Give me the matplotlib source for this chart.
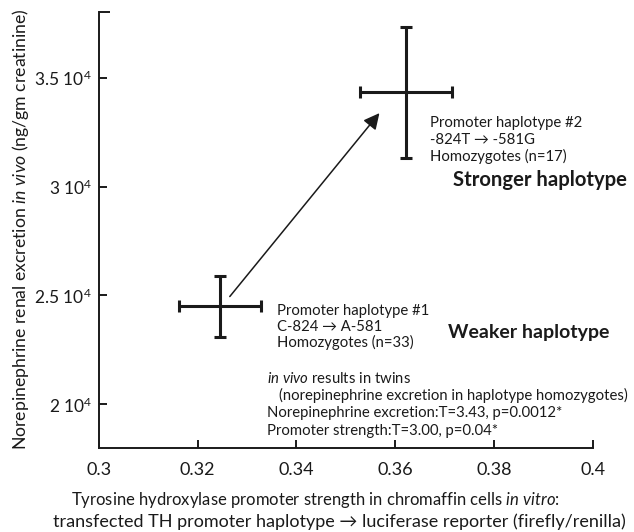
import numpy as np
import matplotlib
matplotlib.use("Agg")
import matplotlib.pyplot as plt
from matplotlib.ticker import FixedLocator, FuncFormatter

plt.rcParams['font.family'] = ['Lato', 'DejaVu Sans']
plt.rcParams['mathtext.fontset'] = 'custom'
plt.rcParams['mathtext.rm'] = 'Lato'
plt.rcParams['mathtext.it'] = 'Lato:italic'
plt.rcParams['mathtext.bf'] = 'Lato:bold'

# haplotype means +/- error (x: in vitro promoter strength, y: NE excretion)
haplotypes = ["#1", "#2"]
promoter_strength = [0.3246, 0.3621]
promoter_err = [0.0083, 0.0093]
ne_excretion = [24500, 34320]
ne_err = [1400, 3000]

x_ticks = [0.3, 0.32, 0.34, 0.36, 0.38, 0.4]
y_ticks = [20000, 25000, 30000, 35000]

INK = '#1a1a1a'

fig = plt.figure(figsize=(6.34, 5.32), dpi=100)
ax = fig.add_axes([0.156, 0.158, 0.779, 0.819])

ax.errorbar(promoter_strength, ne_excretion, xerr=promoter_err, yerr=ne_err,
            fmt='none', ecolor=INK, elinewidth=2.2, capsize=4, capthick=2.2)

# arrow from weaker to stronger haplotype
ax.annotate("", xy=(0.3568, 33370), xytext=(0.3265, 24950),
            arrowprops=dict(arrowstyle='-|>', mutation_scale=24, lw=1.1,
                            color=INK, shrinkA=0, shrinkB=0))

ax.set_xlim(0.3, 0.4)
ax.set_ylim(18000, 38000)
ax.xaxis.set_major_locator(FixedLocator(x_ticks))
ax.yaxis.set_major_locator(FixedLocator(y_ticks))
ax.yaxis.set_minor_locator(FixedLocator([38000]))
ax.xaxis.set_major_formatter(FuncFormatter(lambda v, p: f"{v:g}"))
ax.yaxis.set_major_formatter(FuncFormatter(lambda v, p: f"{v / 1e4:g} 10$^4$"))

for s in ['top', 'right']:
    ax.spines[s].set_visible(False)
for s in ['left', 'bottom']:
    ax.spines[s].set_linewidth(1.4)
    ax.spines[s].set_color(INK)
ax.tick_params(axis='both', which='both', direction='in', length=6, width=1.4,
               color=INK, labelsize=13, labelcolor=INK)
ax.tick_params(axis='x', pad=10)
ax.tick_params(axis='y', pad=5, labelsize=12.5)
ax.tick_params(axis='y', which='minor', length=8)

fig.text(0.033, 0.569, r"Norepinephrine renal excretion $\it{in\ vivo}$ (ng/gm creatinine)",
         rotation=90, ha='center', va='center', fontsize=12.7, color=INK)
fig.text(0.497, 1 - 505 / 532,
         r"Tyrosine hydroxylase promoter strength in chromaffin cells $\it{in\ vitro}$:",
         ha='center', va='baseline', fontsize=12, color=INK)
fig.text(0.536, 1 - 527 / 532, "transfected TH promoter haplotype \u2192 luciferase reporter (firefly/renilla)",
         ha='center', va='baseline', fontsize=13, color=INK)

# haplotype labels, one line at a time (baseline positions in data units)
hap2_lines = ["Promoter haplotype #2", "-824T \u2192 -581G", "Homozygotes (n=17)"]
for line, yb in zip(hap2_lines, [32727, 31950, 31159]):
    ax.text(0.3670, yb, line, ha='left', va='baseline', fontsize=10.7, color=INK)
ax.text(0.3717, 30015, "Stronger haplotype", ha='left', va='baseline',
        fontsize=14.6, fontweight='bold', color=INK)

hap1_lines = ["Promoter haplotype #1", "C-824 \u2192 A-581", "Homozygotes (n=33)"]
for line, yb in zip(hap1_lines, [24116, 23384, 22653]):
    ax.text(0.3360, yb, line, ha='left', va='baseline', fontsize=10.7, color=INK)
ax.text(0.3706, 23033, "Weaker haplotype", ha='left', va='baseline',
        fontsize=14, fontweight='bold', color=INK)

stats_lines = [r"$\it{in\ vivo}$ results in twins",
               "(norepinephrine excretion in haplotype homozygotes)",
               "Norepinephrine excretion:T=3.43, p=0.0012*",
               "Promoter strength:T=3.00, p=0.04*"]
stats_x = [0.3340, 0.3365, 0.3340, 0.3340]
for line, xl, yb in zip(stats_lines, stats_x, [20961, 20184, 19407, 18583]):
    ax.text(xl, yb, line, ha='left', va='baseline', fontsize=10.7, color=INK)

fig.savefig("out.png", dpi=100)
